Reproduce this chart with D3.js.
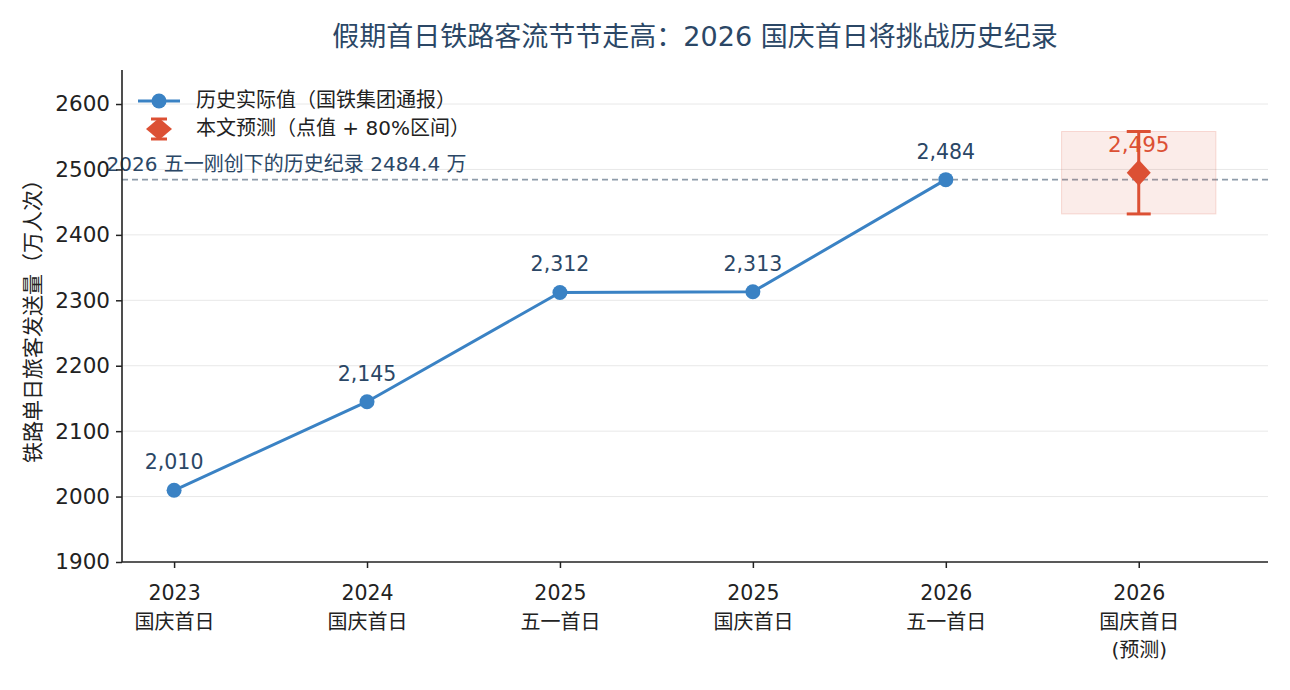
<!DOCTYPE html>
<html>
<head>
<meta charset="utf-8">
<script src="https://cdn.jsdelivr.net/npm/d3@7"></script>
<style>
  body { margin: 0; background: #fff; }
  text { font-family: "DejaVu Sans", "Noto Sans CJK SC", sans-serif; }
</style>
</head>
<body>
<div id="chart"></div>
<script>
// données
const categories = ["2023|国庆首日", "2024|国庆首日", "2025|五一首日", "2025|国庆首日", "2026|五一首日", "2026|国庆首日|(预测)"];
const histValues = [2009.6, 2145, 2312, 2313, 2484.4];
const histLabels = ["2,010", "2,145", "2,312", "2,313", "2,484"];
const forecast = { value: 2495, low: 2432, high: 2558, label: "2,495" };
const recordValue = 2484.4;
const yTicks = [1900, 2000, 2100, 2200, 2300, 2400, 2500, 2600];

const W = 1290, H = 690;
const margin = { top: 70, right: 22, bottom: 128, left: 122 };
const width = W - margin.left - margin.right,
      height = H - margin.top - margin.bottom;

const blue = "#3a82c4", red = "#dc5034", navy = "#2b4766";

const svg = d3.select("#chart").append("svg")
  .attr("width", W).attr("height", H);

const g = svg.append("g")
  .attr("transform", "translate(" + margin.left + "," + margin.top + ")");

const x = d3.scaleLinear().domain([-0.27, 5.67]).range([0, width]);
const y = d3.scaleLinear().domain([1900, 2652]).range([height, 0]);

// grille
g.selectAll(".grid").data(yTicks.slice(1))
  .enter().append("line")
  .attr("x1", 0).attr("x2", width)
  .attr("y1", d => y(d)).attr("y2", d => y(d))
  .attr("stroke", "#e8e8e8").attr("stroke-width", 1);

// ligne du record
g.append("line")
  .attr("x1", 0).attr("x2", width)
  .attr("y1", y(recordValue)).attr("y2", y(recordValue))
  .attr("stroke", "#8e9caa").attr("stroke-width", 1.6)
  .attr("stroke-dasharray", "6,4");

g.append("text")
  .attr("x", x(-0.35)).attr("y", y(recordValue) - 9)
  .attr("font-size", 20).attr("fill", navy)
  .text("2026 五一刚创下的历史纪录 2484.4 万");

// zone de prévision
g.append("rect")
  .attr("x", x(4.6)).attr("width", x(5.4) - x(4.6))
  .attr("y", y(forecast.high)).attr("height", y(forecast.low) - y(forecast.high))
  .attr("fill", red).attr("fill-opacity", 0.11)
  .attr("stroke", red).attr("stroke-opacity", 0.18);

// courbe historique
const line = d3.line().x((d, i) => x(i)).y(d => y(d));
g.append("path").datum(histValues)
  .attr("d", line)
  .attr("fill", "none").attr("stroke", blue).attr("stroke-width", 3);

g.selectAll(".pt").data(histValues)
  .enter().append("circle")
  .attr("cx", (d, i) => x(i)).attr("cy", d => y(d))
  .attr("r", 7.5).attr("fill", blue);

g.selectAll(".lbl").data(histValues)
  .enter().append("text")
  .attr("x", (d, i) => x(i)).attr("y", d => y(d) - 21)
  .attr("text-anchor", "middle").attr("font-size", 20.5).attr("fill", navy)
  .text((d, i) => histLabels[i]);

// barre d'erreur de la prévision
const fx = x(5);
g.append("line")
  .attr("x1", fx).attr("x2", fx)
  .attr("y1", y(forecast.high)).attr("y2", y(forecast.low))
  .attr("stroke", red).attr("stroke-width", 3);
[forecast.high, forecast.low].forEach(v => {
  g.append("line")
    .attr("x1", fx - 12).attr("x2", fx + 12)
    .attr("y1", y(v)).attr("y2", y(v))
    .attr("stroke", red).attr("stroke-width", 3);
});
g.append("path")
  .attr("d", "M0,-13L12,0L0,13L-12,0Z")
  .attr("transform", "translate(" + fx + "," + y(forecast.value) + ")")
  .attr("fill", red);

g.append("text")
  .attr("x", fx).attr("y", y(forecast.value) - 21)
  .attr("text-anchor", "middle").attr("font-size", 21.5).attr("fill", red)
  .text(forecast.label);

// axes
const yAxis = g.append("g")
  .call(d3.axisLeft(y).tickValues(yTicks).tickSize(6).tickPadding(6).tickFormat(d3.format("d")));
yAxis.selectAll("text").attr("font-size", 21.5).attr("fill", "#222");
yAxis.selectAll("line").attr("stroke", "#222").attr("stroke-width", 1.5);
yAxis.select(".domain").attr("stroke", "#222").attr("stroke-width", 1.6).attr("d", "M0," + height + "V0");

const xAxis = g.append("g").attr("transform", "translate(0," + height + ")")
  .call(d3.axisBottom(x).tickValues(d3.range(categories.length)).tickSize(6).tickFormat(""));
xAxis.selectAll("line").attr("stroke", "#222").attr("stroke-width", 1.5);
xAxis.select(".domain").attr("stroke", "#222").attr("stroke-width", 1.6).attr("d", "M0,0H" + width);

xAxis.selectAll(".tick").each(function (d) {
  const parts = categories[d].split("|");
  const t = d3.select(this).append("text")
    .attr("text-anchor", "middle").attr("fill", "#222");
  parts.forEach((p, k) => {
    t.append("tspan")
      .attr("x", 0).attr("y", 38 + k * 28.5)
      .attr("font-size", k === 0 ? 20.5 : 20)
      .text(p);
  });
});

// titre de l'axe Y
svg.append("text")
  .attr("transform", "translate(40," + (margin.top + height / 2) + ") rotate(-90)")
  .attr("text-anchor", "middle").attr("font-size", 21).attr("fill", "#222")
  .text("铁路单日旅客发送量（万人次）");

// titre
svg.append("text")
  .attr("x", margin.left + width / 2).attr("y", 46)
  .attr("text-anchor", "middle").attr("font-size", 27).attr("fill", navy)
  .text("假期首日铁路客流节节走高：2026 国庆首日将挑战历史纪录");

// légende
const leg = g.append("g").attr("transform", "translate(16,31)");
leg.append("line").attr("x1", 0).attr("x2", 42).attr("y1", 0).attr("y2", 0)
  .attr("stroke", blue).attr("stroke-width", 3);
leg.append("circle").attr("cx", 21).attr("cy", 0).attr("r", 7.5).attr("fill", blue);
leg.append("text").attr("x", 58).attr("y", 6).attr("font-size", 20).attr("fill", "#222")
  .text("历史实际值（国铁集团通报）");

const l2 = leg.append("g").attr("transform", "translate(21,28)");
l2.append("line").attr("x1", 0).attr("x2", 0).attr("y1", -10).attr("y2", 10)
  .attr("stroke", red).attr("stroke-width", 3);
[-10, 10].forEach(v => l2.append("line").attr("x1", -8).attr("x2", 8).attr("y1", v).attr("y2", v)
  .attr("stroke", red).attr("stroke-width", 3));
l2.append("path").attr("d", "M0,-11L13,0L0,11L-13,0Z").attr("fill", red);
leg.append("text").attr("x", 58).attr("y", 34).attr("font-size", 20).attr("fill", "#222")
  .text("本文预测（点值 + 80%区间）");
</script>
</body>
</html>
